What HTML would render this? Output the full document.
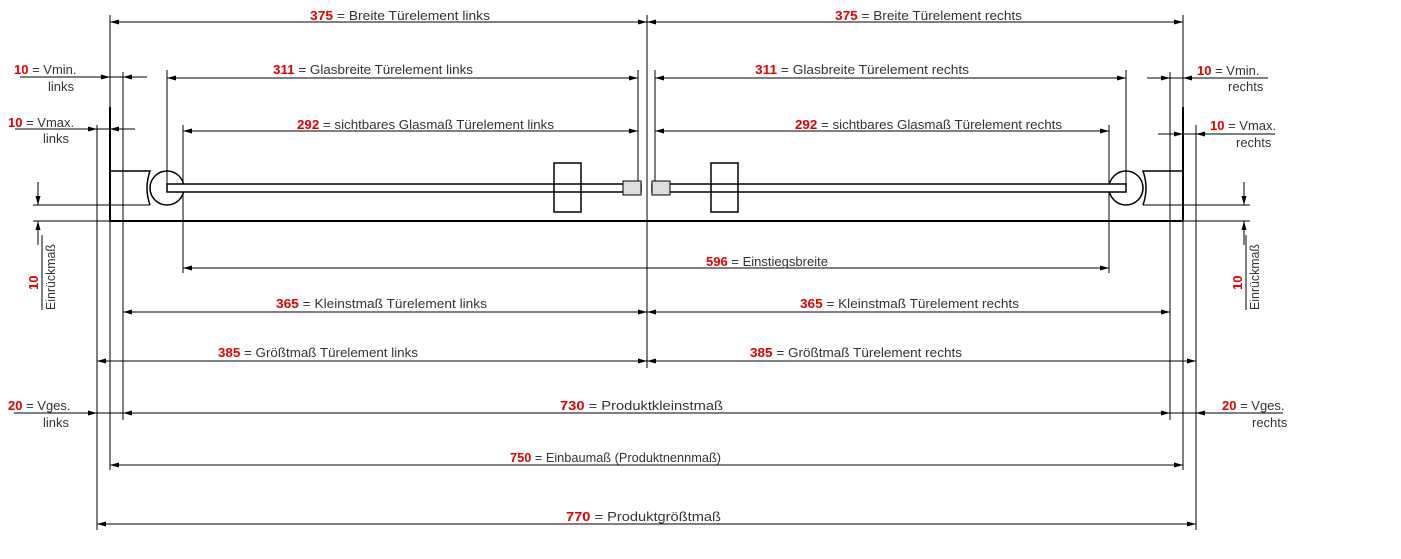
<!DOCTYPE html>
<html><head><meta charset="utf-8"><style>
html,body{margin:0;padding:0;background:#fff;}
svg{display:block;}
text{font-family:"Liberation Sans",sans-serif;font-size:13px;fill:#333;}
.n{fill:#e00000;font-weight:bold;}
</style></head><body>
<svg width="1401" height="559" viewBox="0 0 1401 559" xmlns="http://www.w3.org/2000/svg">
<defs>
<marker id="a" markerUnits="userSpaceOnUse" markerWidth="10" markerHeight="8" refX="9" refY="3" orient="auto-start-reverse"><path d="M0,0.5 L9,3 L0,5.5 z" fill="#000"/></marker>
</defs>
<g stroke="#000" stroke-width="1" fill="none">
<line x1="97" y1="125" x2="97" y2="530"/>
<line x1="110" y1="15" x2="110" y2="470"/>
<line x1="123" y1="72" x2="123" y2="420"/>
<line x1="167" y1="70" x2="167" y2="184"/>
<line x1="183" y1="125" x2="183" y2="273"/>
<line x1="647" y1="15" x2="647" y2="368"/>
<line x1="638" y1="70" x2="638" y2="195"/>
<line x1="655" y1="70" x2="655" y2="195"/>
<line x1="1196" y1="125" x2="1196" y2="530"/>
<line x1="1183" y1="15" x2="1183" y2="470"/>
<line x1="1170" y1="72" x2="1170" y2="420"/>
<line x1="1126" y1="70" x2="1126" y2="184"/>
<line x1="1109" y1="125" x2="1109" y2="273"/>
<line x1="110" y1="107" x2="110" y2="221" stroke-width="2"/>
<line x1="1183" y1="107" x2="1183" y2="221" stroke-width="2"/>
<line x1="110" y1="221" x2="1183" y2="221" stroke-width="2"/>
<line x1="33" y1="205" x2="150" y2="205"/>
<line x1="33" y1="221" x2="110" y2="221"/>
<line x1="1143" y1="205" x2="1250" y2="205"/>
<line x1="1183" y1="221" x2="1250" y2="221"/>
<path d="M110,171 H150 Q144,188 150,205" stroke-width="1.5"/>
<path d="M1183,171 H1143 Q1149,188 1143,205" stroke-width="1.5"/>
<circle cx="167" cy="188" r="17" stroke-width="1.5"/>
<circle cx="1126" cy="188" r="17" stroke-width="1.5"/>
<rect x="167" y="184" width="474" height="8" fill="#fff" stroke-width="1.5"/>
<rect x="652" y="184" width="474" height="8" fill="#fff" stroke-width="1.5"/>
<rect x="623" y="181" width="18" height="14" fill="#ddd"/>
<rect x="652" y="181" width="18" height="14" fill="#ddd"/>
<rect x="554" y="163" width="27" height="49" fill="none" stroke-width="1.5"/>
<rect x="711" y="163" width="27" height="49" fill="none" stroke-width="1.5"/>
<g marker-start="url(#a)" marker-end="url(#a)">
<line x1="110" y1="22" x2="647" y2="22"/>
<line x1="647" y1="22" x2="1183" y2="22"/>
<line x1="167" y1="78" x2="638" y2="78"/>
<line x1="655" y1="78" x2="1126" y2="78"/>
<line x1="183" y1="131" x2="638" y2="131"/>
<line x1="655" y1="131" x2="1109" y2="131"/>
<line x1="183" y1="268" x2="1109" y2="268"/>
<line x1="123" y1="312" x2="647" y2="312"/>
<line x1="647" y1="312" x2="1170" y2="312"/>
<line x1="97" y1="361" x2="647" y2="361"/>
<line x1="647" y1="361" x2="1196" y2="361"/>
<line x1="110" y1="465" x2="1183" y2="465"/>
<line x1="97" y1="524" x2="1196" y2="524"/>
</g>
<line x1="20" y1="77" x2="147" y2="77"/>
<line x1="88" y1="77" x2="110" y2="77" marker-end="url(#a)"/>
<line x1="140" y1="77" x2="123" y2="77" marker-end="url(#a)"/>
<line x1="15" y1="129" x2="135" y2="129"/>
<line x1="80" y1="129" x2="97" y2="129" marker-end="url(#a)"/>
<line x1="128" y1="129" x2="110" y2="129" marker-end="url(#a)"/>
<line x1="14" y1="413" x2="1283" y2="413"/>
<line x1="80" y1="413" x2="97" y2="413" marker-end="url(#a)"/>
<line x1="140" y1="413" x2="123" y2="413" marker-end="url(#a)"/>
<line x1="1153" y1="413" x2="1170" y2="413" marker-end="url(#a)"/>
<line x1="1213" y1="413" x2="1196" y2="413" marker-end="url(#a)"/>
<line x1="1147" y1="78" x2="1268" y2="78"/>
<line x1="1153" y1="78" x2="1170" y2="78" marker-end="url(#a)"/>
<line x1="1200" y1="78" x2="1183" y2="78" marker-end="url(#a)"/>
<line x1="1158" y1="134" x2="1275" y2="134"/>
<line x1="1166" y1="134" x2="1183" y2="134" marker-end="url(#a)"/>
<line x1="1213" y1="134" x2="1196" y2="134" marker-end="url(#a)"/>
<line x1="38" y1="182" x2="38" y2="205" marker-end="url(#a)"/>
<line x1="38" y1="245" x2="38" y2="221" marker-end="url(#a)"/>
<line x1="1244" y1="182" x2="1244" y2="205" marker-end="url(#a)"/>
<line x1="1244" y1="245" x2="1244" y2="221" marker-end="url(#a)"/>
<line x1="42" y1="235" x2="42" y2="310"/>
<line x1="1246" y1="235" x2="1246" y2="310"/>
</g>
<g>
<text x="310" y="20" textLength="180" lengthAdjust="spacingAndGlyphs"><tspan class="n">375</tspan> = Breite Türelement links</text>
<text x="835" y="20" textLength="187" lengthAdjust="spacingAndGlyphs"><tspan class="n">375</tspan> = Breite Türelement rechts</text>
<text x="273" y="74" textLength="200" lengthAdjust="spacingAndGlyphs"><tspan class="n">311</tspan> = Glasbreite Türelement links</text>
<text x="755" y="74" textLength="214" lengthAdjust="spacingAndGlyphs"><tspan class="n">311</tspan> = Glasbreite Türelement rechts</text>
<text x="297" y="129" textLength="257" lengthAdjust="spacingAndGlyphs"><tspan class="n">292</tspan> = sichtbares Glasmaß Türelement links</text>
<text x="795" y="129" textLength="267" lengthAdjust="spacingAndGlyphs"><tspan class="n">292</tspan> = sichtbares Glasmaß Türelement rechts</text>
<text x="706" y="266" textLength="122" lengthAdjust="spacingAndGlyphs"><tspan class="n">596</tspan> = Einstiegsbreite</text>
<text x="276" y="308" textLength="211" lengthAdjust="spacingAndGlyphs"><tspan class="n">365</tspan> = Kleinstmaß Türelement links</text>
<text x="800" y="308" textLength="219" lengthAdjust="spacingAndGlyphs"><tspan class="n">365</tspan> = Kleinstmaß Türelement rechts</text>
<text x="218" y="357" textLength="200" lengthAdjust="spacingAndGlyphs"><tspan class="n">385</tspan> = Größtmaß Türelement links</text>
<text x="750" y="357" textLength="212" lengthAdjust="spacingAndGlyphs"><tspan class="n">385</tspan> = Größtmaß Türelement rechts</text>
<text x="560" y="410" textLength="163" lengthAdjust="spacingAndGlyphs"><tspan class="n">730</tspan> = Produktkleinstmaß</text>
<text x="510" y="462" textLength="211" lengthAdjust="spacingAndGlyphs"><tspan class="n">750</tspan> = Einbaumaß (Produktnennmaß)</text>
<text x="566" y="521" textLength="155" lengthAdjust="spacingAndGlyphs"><tspan class="n">770</tspan> = Produktgrößtmaß</text>
<text x="14" y="74"><tspan class="n">10</tspan> = Vmin.</text>
<text x="48" y="91">links</text>
<text x="8" y="127"><tspan class="n">10</tspan> = Vmax.</text>
<text x="43" y="143">links</text>
<text x="8" y="410"><tspan class="n">20</tspan> = Vges.</text>
<text x="43" y="427">links</text>
<text x="1197" y="75"><tspan class="n">10</tspan> = Vmin.</text>
<text x="1228" y="91">rechts</text>
<text x="1210" y="130"><tspan class="n">10</tspan> = Vmax.</text>
<text x="1236" y="147">rechts</text>
<text x="1222" y="410"><tspan class="n">20</tspan> = Vges.</text>
<text x="1252" y="427">rechts</text>
<text transform="translate(38,290) rotate(-90)" class="n">10</text>
<text transform="translate(55,310) rotate(-90)" textLength="66" lengthAdjust="spacingAndGlyphs">Einrückmaß</text>
<text transform="translate(1242,290) rotate(-90)" class="n">10</text>
<text transform="translate(1259,310) rotate(-90)" textLength="66" lengthAdjust="spacingAndGlyphs">Einrückmaß</text>
</g>
</svg>
</body></html>
